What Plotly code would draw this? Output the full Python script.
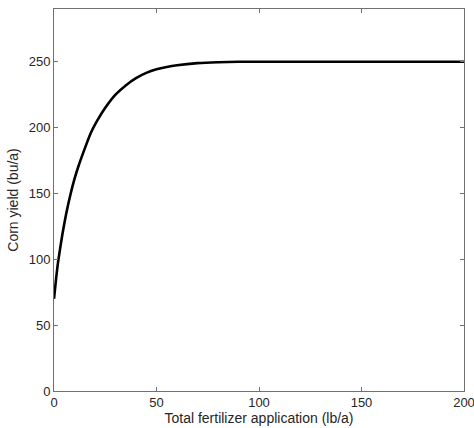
import plotly.graph_objects as go

# Fertilizer response curve (yield vs. total fertilizer applied)
fertilizer_lb_a = [0, 1, 2, 4, 6, 8, 10, 12, 15, 18, 21, 25, 30, 35, 40, 45, 50,
                   55, 60, 70, 80, 90, 100, 125, 150, 175, 200]
corn_yield_bu_a = [70, 85, 98, 118, 135, 149, 161, 171, 184, 196, 205, 215, 225, 232,
                   237.5, 241.5, 244.2, 246, 247.3, 248.9, 249.6, 249.9, 250, 250,
                   250, 250, 250]

x_ticks = [0, 50, 100, 150, 200]
y_ticks = [0, 50, 100, 150, 200, 250]

axis_color = "#707070"
text_color = "#262626"
font_family = "Liberation Sans, Arial, sans-serif"

fig = go.Figure()
fig.add_trace(go.Scatter(
    x=fertilizer_lb_a, y=corn_yield_bu_a,
    mode="lines", line=dict(color="black", width=2.6, shape="spline", smoothing=0.6),
    showlegend=False, hoverinfo="skip",
))

common_axis = dict(
    showline=True, linecolor=axis_color, linewidth=1, mirror="ticks",
    ticks="inside", ticklen=4, tickcolor=axis_color, tickwidth=1,
    showgrid=False, zeroline=False, automargin=False,
    ticklabeloverflow="allow",
    tickfont=dict(family=font_family, size=13, color=text_color),
)

fig.update_layout(
    width=474, height=428,
    margin=dict(l=54, r=10, t=9, b=37),
    plot_bgcolor="white", paper_bgcolor="white",
    xaxis=dict(range=[0, 200], tickvals=x_ticks, ticklabelstandoff=-1, **common_axis,
               title=dict(text="Total fertilizer application (lb/a)", standoff=2,
                          font=dict(family=font_family, size=14, color=text_color))),
    yaxis=dict(range=[0, 290], tickvals=y_ticks, **common_axis,
               title=dict(text="Corn yield (bu/a)", standoff=6,
                          font=dict(family=font_family, size=14, color=text_color))),
)

fig.write_html("out.html")
